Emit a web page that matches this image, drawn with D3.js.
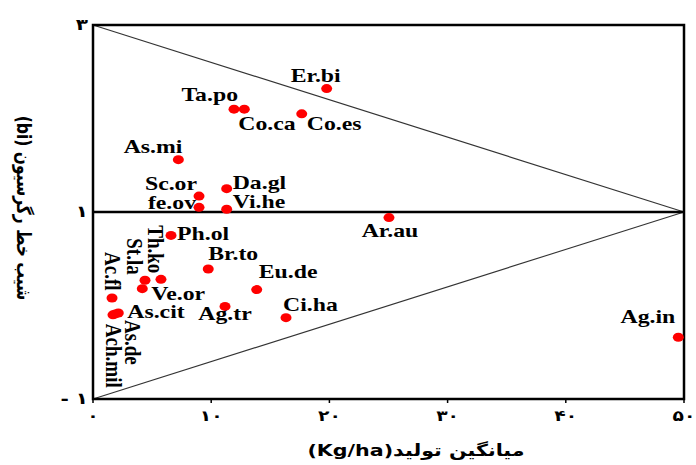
<!DOCTYPE html>
<html>
<head>
<meta charset="utf-8">
<script src="https://cdn.jsdelivr.net/npm/d3@7"></script>
<style>
  body { margin: 0; background: #fff; }
</style>
</head>
<body>
<div id="chart"></div>
<script>
// species codes, mean yield (Kg/ha) and regression slope (bi)
const species = ["Er.bi", "Ta.po", "Co.ca", "Co.es", "As.mi", "Sc.or", "fe.ov", "Da.gl", "Vi.he",
    "Ph.ol", "Br.to", "Th.ko", "St.la", "Ve.or", "Eu.de", "Ac.fl", "Ag.tr", "As.cit", "As.de",
    "Ach.mil", "Ci.ha", "Ar.au", "Ag.in"];
const meanYield = [19.77, 11.93, 12.80, 17.66, 7.22, 8.97, 8.97, 11.31, 11.31,
    6.60, 9.75, 5.75, 4.40, 4.17, 13.85, 1.61, 11.17, 2.14, 1.90,
    1.69, 16.33, 25.04, 49.52];
const slope = [2.32, 2.10, 2.10, 2.05, 1.56, 1.17, 1.05, 1.25, 1.03,
    0.75, 0.39, 0.28, 0.27, 0.18, 0.17, 0.08, -0.01, -0.08, -0.09,
    -0.10, -0.13, 0.94, -0.34];

const xTicks = [0, 10, 20, 30, 40, 50];
const xTickLabels = ["۰", "۱۰", "۲۰", "۳۰", "۴۰", "۵۰"];
const yTicks = [3, 1, -1];
const yTickLabels = ["۳", "۱", "- ۱"];

const xTitle = "میانگین تولید(Kg/ha)";
const yTitle = "شیب خط رگرسیون (bi)";

// where each label sits next to its point: [anchor, dx, dy, vertical]
const labelPlace = {
    "Er.bi": ["middle", -11, -7, false],
    "Ta.po": ["end", 4, -8, false],
    "Co.ca": ["start", -6, 21, false],
    "Co.es": ["start", 5, 16, false],
    "As.mi": ["end", 4, -7, false],
    "Sc.or": ["end", -2, -6, false],
    "fe.ov": ["end", -3, 2, false],
    "Da.gl": ["start", 6, 0, false],
    "Vi.he": ["start", 6, -1, false],
    "Ph.ol": ["start", 6, 5, false],
    "Br.to": ["start", 0, -9, false],
    "Th.ko": ["start", -13, -54, true],
    "St.la": ["start", -18, -42, true],
    "Ve.or": ["start", 9, 11, false],
    "Eu.de": ["start", 2, -12, false],
    "Ac.fl": ["start", -7, -46, true],
    "Ag.tr": ["middle", 0, 14, false],
    "As.cit": ["start", 9, 5, false],
    "As.de": ["start", 10, 6, true],
    "Ach.mil": ["start", -7, 9, true],
    "Ci.ha": ["start", -3, -7, false],
    "Ar.au": ["middle", 1, 19, false],
    "Ag.in": ["end", -3, -14, false]
};

const width = 696;
const height = 465;
const stretch = 1.25;   // the reference is drawn a bit wide

const x = d3.scaleLinear().domain([0, 50]).range([93, 684]);
const y = d3.scaleLinear().domain([-1, 3]).range([399, 25]);

const points = species.map((name, i) => ({ name, x: meanYield[i], y: slope[i] }));

const svg = d3.create("svg")
    .attr("width", width)
    .attr("height", height)
    .attr("font-family", "'Liberation Serif', 'Times New Roman', serif")
    .attr("font-weight", "bold");

// diagonal guide lines meeting at (50, 1)
svg.append("g")
    .selectAll("line")
    .data([3, -1])
    .join("line")
    .attr("x1", x(0))
    .attr("y1", d => y(d))
    .attr("x2", x(50))
    .attr("y2", y(1))
    .attr("stroke", "#333")
    .attr("stroke-width", 1.1);

// frame and the bi = 1 line
svg.append("rect")
    .attr("x", x(0))
    .attr("y", y(3))
    .attr("width", x(50) - x(0))
    .attr("height", y(-1) - y(3))
    .attr("fill", "none")
    .attr("stroke", "#000")
    .attr("stroke-width", 2.5);

svg.append("line")
    .attr("x1", x(0))
    .attr("x2", x(50))
    .attr("y1", y(1))
    .attr("y2", y(1))
    .attr("stroke", "#000")
    .attr("stroke-width", 2.5);

// x ticks
const xg = svg.append("g");
xg.selectAll("line")
    .data(xTicks)
    .join("line")
    .attr("x1", d => x(d))
    .attr("x2", d => x(d))
    .attr("y1", y(-1))
    .attr("y2", y(-1) + 4)
    .attr("stroke", "#000")
    .attr("stroke-width", 1.5);

xg.selectAll("text")
    .data(xTicks)
    .join("text")
    .attr("transform", d => `translate(${x(d)},${y(-1) + 22}) scale(${stretch},1)`)
    .attr("text-anchor", "middle")
    .attr("font-family", "'DejaVu Sans', sans-serif")
    .attr("font-size", 15)
    .text((d, i) => xTickLabels[i]);

// y ticks
svg.append("g")
    .selectAll("text")
    .data(yTicks)
    .join("text")
    .attr("transform", d => `translate(88,${y(d) + 5}) scale(${stretch},1)`)
    .attr("text-anchor", "end")
    .attr("font-family", "'DejaVu Sans', sans-serif")
    .attr("font-size", 16)
    .text((d, i) => yTickLabels[i]);

// axis titles (right-to-left text)
svg.append("text")
    .attr("transform", `translate(416,456) scale(${stretch},1)`)
    .attr("direction", "rtl")
    .style("direction", "rtl")
    .attr("text-anchor", "middle")
    .attr("font-family", "'DejaVu Sans', sans-serif")
    .attr("font-size", 16.5)
    .text(xTitle);

svg.append("text")
    .attr("transform", `translate(17,208) scale(${stretch},1) rotate(90)`)
    .attr("direction", "rtl")
    .style("direction", "rtl")
    .attr("text-anchor", "middle")
    .attr("font-family", "'DejaVu Sans', sans-serif")
    .attr("font-size", 15.5)
    .text(yTitle);

// points
svg.append("g")
    .selectAll("ellipse")
    .data(points)
    .join("ellipse")
    .attr("cx", d => x(d.x))
    .attr("cy", d => y(d.y))
    .attr("rx", 5.5)
    .attr("ry", 4.5)
    .attr("fill", "#ff0000");

// labels
svg.append("g")
    .selectAll("text")
    .data(points)
    .join("text")
    .attr("font-size", 19)
    .attr("text-anchor", d => labelPlace[d.name][0])
    .attr("transform", d => {
        const [, dx, dy, vertical] = labelPlace[d.name];
        const t = `translate(${x(d.x) + dx},${y(d.y) + dy}) scale(${stretch},1)`;
        return vertical ? t + " rotate(90)" : t;
    })
    .text(d => d.name);

d3.select("#chart").node().appendChild(svg.node());
</script>
</body>
</html>
